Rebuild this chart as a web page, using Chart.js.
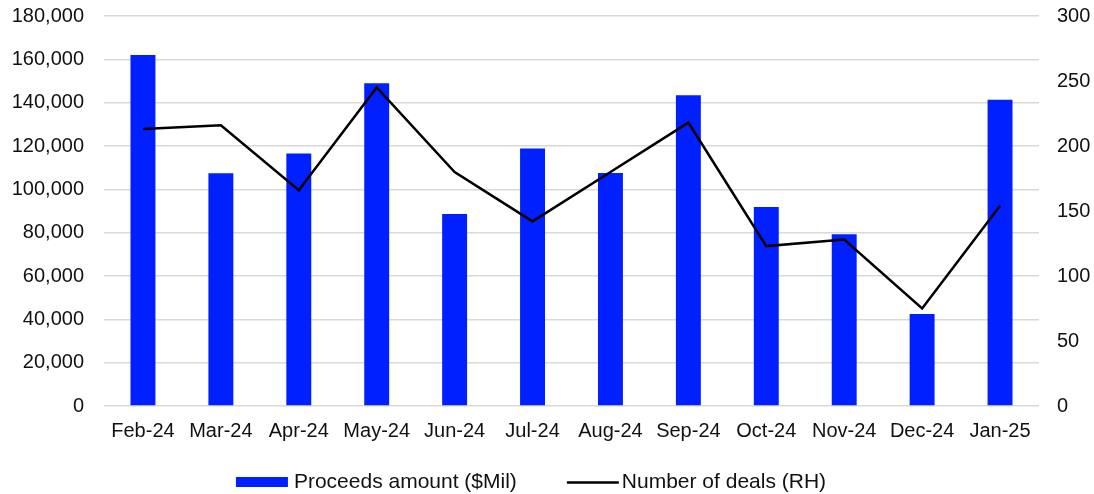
<!DOCTYPE html>
<html>
<head>
<meta charset="utf-8">
<script src="https://cdn.jsdelivr.net/npm/chart.js@4/dist/chart.umd.min.js"></script>
<style>
  html, body { margin: 0; padding: 0; background: #fff; }
  #wrap { width: 1094px; height: 494px; position: relative; }
</style>
</head>
<body>
<div id="wrap"><canvas id="chart"></canvas></div>
<script>
const months = ['Feb-24', 'Mar-24', 'Apr-24', 'May-24', 'Jun-24', 'Jul-24',
  'Aug-24', 'Sep-24', 'Oct-24', 'Nov-24', 'Dec-24', 'Jan-25']

// proceeds, $ millions (left axis)
const proceeds = [162000, 107400, 116500, 149000, 88600, 118800,
  107500, 143400, 91800, 79300, 42500, 141400]

// deal count (right axis)
const deals = [213, 216, 166, 245, 180, 142, 180, 218, 123, 128, 75, 154]

const proceedsLabel = 'Proceeds amount ($Mil)'
const dealsLabel = 'Number of deals (RH)'

const leftTicks = { min: 0, max: 180000, step: 20000 }
const rightTicks = { min: 0, max: 300, step: 50 }

const BLUE = '#0020ff'
const INK = '#111'
const GRID = '#d9d9d9'
const FONT = 'Liberation Sans, Arial, sans-serif'

// legend drawn under the axis labels, bar swatch + line swatch
const bottomLegend = {
  id: 'bottomLegend',
  afterDraw(chart) {
    const ctx = chart.ctx
    const y = 482
    const swatch = 52
    ctx.save()
    ctx.font = '21px ' + FONT
    ctx.textBaseline = 'middle'
    ctx.fillStyle = INK

    const items = chart.data.datasets.map(ds => ({
      ds,
      gap: ds.type === 'line' ? 3 : 6,
      w: ctx.measureText(ds.label).width
    }))
    const spacing = 50
    const total = items.reduce((s, it) => s + swatch + it.gap + it.w, 0) + spacing * (items.length - 1)
    let x = 531 - total / 2

    items.forEach(it => {
      if (it.ds.type === 'line') {
        ctx.strokeStyle = it.ds.borderColor
        ctx.lineWidth = it.ds.borderWidth
        ctx.beginPath()
        ctx.moveTo(x, y + 0.5)
        ctx.lineTo(x + swatch, y + 0.5)
        ctx.stroke()
      } else {
        ctx.fillStyle = it.ds.backgroundColor
        ctx.fillRect(x, y - 5, swatch, 10)
      }
      ctx.fillStyle = INK
      ctx.fillText(it.ds.label, x + swatch + it.gap, y)
      x += swatch + it.gap + it.w + spacing
    })
    ctx.restore()
  }
}

// fixed axis widths; drop the label overhang so the plot starts at the top padding
const fixAxis = width => s => {
  s.width = width
  s.paddingTop = 0
  s.paddingBottom = 0
}

Chart.defaults.font.family = FONT
Chart.defaults.font.size = 20
Chart.defaults.color = INK

new Chart(document.getElementById('chart'), {
  data: {
    labels: months,
    datasets: [
      {
        type: 'bar',
        label: proceedsLabel,
        data: proceeds,
        backgroundColor: BLUE,
        borderWidth: 0,
        yAxisID: 'y',
        categoryPercentage: 1,
        barPercentage: 0.32,
        order: 1
      },
      {
        type: 'line',
        label: dealsLabel,
        data: deals,
        borderColor: '#000',
        borderWidth: 2.5,
        borderJoinStyle: 'miter',
        pointRadius: 0,
        tension: 0,
        fill: false,
        yAxisID: 'y1',
        order: 0
      }
    ]
  },
  options: {
    responsive: true,
    maintainAspectRatio: false,
    animation: false,
    layout: { padding: { top: 16, bottom: 48, left: 0, right: 0 } },
    plugins: {
      legend: { display: false },
      tooltip: { enabled: false }
    },
    scales: {
      x: {
        offset: true,
        grid: { display: false, drawTicks: false },
        border: { display: false },
        ticks: { padding: 13, maxRotation: 0, autoSkip: false },
        afterFit: s => { s.height = 40 }
      },
      y: {
        position: 'left',
        min: leftTicks.min,
        max: leftTicks.max,
        grid: { color: GRID, lineWidth: 1.5, drawTicks: false },
        border: { display: false },
        ticks: {
          stepSize: leftTicks.step,
          padding: 20,
          callback: v => v.toLocaleString('en-US')
        },
        afterFit: fixAxis(104)
      },
      y1: {
        position: 'right',
        min: rightTicks.min,
        max: rightTicks.max,
        grid: { display: false, drawTicks: false },
        border: { display: false },
        ticks: { stepSize: rightTicks.step, padding: 18 },
        afterFit: fixAxis(55)
      }
    }
  },
  plugins: [bottomLegend]
})
</script>
</body>
</html>
